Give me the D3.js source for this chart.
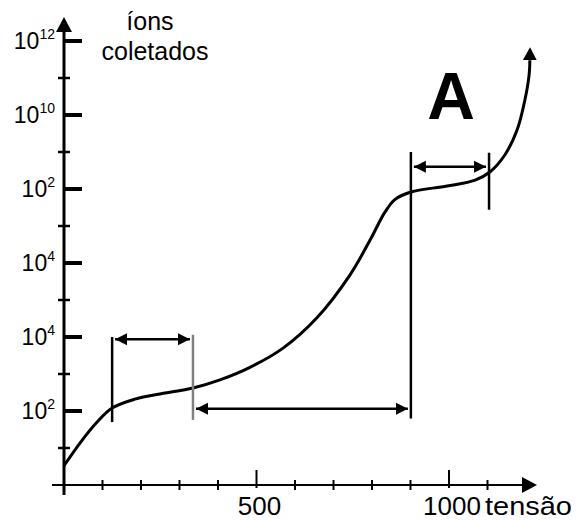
<!DOCTYPE html>
<html>
<head>
<meta charset="utf-8">
<script src="https://cdn.jsdelivr.net/npm/d3@7"></script>
<style>
  body { margin: 0; background: #fff; }
  svg { display: block; font-family: "Liberation Sans", Arial, sans-serif; }
</style>
</head>
<body>
<script>
// voltage (tensão) and position on the y axis, in tick steps
const curveVolts  = [0, 42, 86, 125, 184, 249, 335, 405, 483, 569, 657, 743, 795, 834, 860, 901, 995, 1068, 1106, 1145, 1177, 1197, 1208, 1210];
const curveLevels = [0.26, 0.57, 0.85, 1.04, 1.16, 1.23, 1.31, 1.42, 1.59, 1.85, 2.26, 2.84, 3.31, 3.69, 3.86, 3.96, 4.04, 4.12, 4.23, 4.46, 4.80, 5.20, 5.54, 5.74];

const yTickBase = ['10', '10', '10', '10', '10', '10'];
const yTickExp  = ['2', '4', '4', '2', '10', '12'];
const xTickLabels = [{v: 500, text: '500'}, {v: 1000, text: '1000'}];

// vertical markers: voltage, bottom level, top level, colour
const markVolts = [125, 335, 901, 1104];
const markLow   = [0.85, 0.88, 0.90, 3.72];
const markHigh  = [2.00, 2.03, 4.50, 4.49];
const markGray  = [false, true, false, false];

// double arrows: from voltage, to voltage, level
const spanFrom  = [125, 335, 901];
const spanTo    = [335, 901, 1104];
const spanLevel = [1.97, 1.03, 4.30];

const width = 578, height = 520;

const svg = d3.select(document.body).append('svg')
  .attr('width', width).attr('height', height);

const x = d3.scaleLinear().domain([0, 1000]).range([64, 449]);
const y = d3.scaleLinear().domain([0, 6]).range([485, 41]);

defineMarkers();
drawAxes();
drawCurve();
drawMarks();
drawTexts();

function defineMarkers(){
  const defs = svg.append('defs');
  defs.append('marker')
    .attr('id', 'head').attr('markerUnits', 'userSpaceOnUse')
    .attr('markerWidth', 14).attr('markerHeight', 14)
    .attr('viewBox', '0 -7 14 14')
    .attr('refX', 12).attr('refY', 0).attr('orient', 'auto-start-reverse')
    .append('path').attr('d', 'M0,-6L12,0L0,6Z').attr('fill', '#000');
  defs.append('marker')
    .attr('id', 'tip').attr('markerUnits', 'userSpaceOnUse')
    .attr('markerWidth', 16).attr('markerHeight', 16)
    .attr('viewBox', '0 -8 16 16')
    .attr('refX', 0).attr('refY', 0).attr('orient', 'auto')
    .append('path').attr('d', 'M0,-7L13,0L0,7Z').attr('fill', '#000');
}

function drawAxes(){
  const g = svg.append('g');
  // y axis
  g.append('line')
    .attr('x1', x(0)).attr('x2', x(0))
    .attr('y1', 495).attr('y2', 32)
    .attr('stroke', '#000').attr('stroke-width', 3);
  g.append('path')
    .attr('d', `M${x(0) - 8},32L${x(0)},17L${x(0) + 8},32Z`).attr('fill', '#000');

  const majors = d3.range(1, 7);
  g.selectAll('.ymaj').data(majors).enter().append('line')
    .attr('x1', x(0)).attr('x2', 82)
    .attr('y1', d => y(d)).attr('y2', d => y(d))
    .attr('stroke', '#000').attr('stroke-width', 4);
  g.selectAll('.ymin').data(d3.range(0.5, 6, 1)).enter().append('line')
    .attr('x1', 58).attr('x2', 70)
    .attr('y1', d => y(d)).attr('y2', d => y(d))
    .attr('stroke', '#000').attr('stroke-width', 2.5);

  const lab = g.selectAll('.ylab').data(majors).enter().append('text')
    .attr('x', 55).attr('y', d => y(d) + 8)
    .attr('text-anchor', 'end').attr('font-size', 23);
  lab.append('tspan').text((d, i) => yTickBase[i]);
  lab.append('tspan').attr('dy', -10).attr('font-size', 14).text((d, i) => yTickExp[i]);

  // x axis
  g.append('line')
    .attr('x1', 52).attr('x2', 523)
    .attr('y1', y(0)).attr('y2', y(0))
    .attr('stroke', '#000').attr('stroke-width', 2);
  g.append('path')
    .attr('d', `M522,${y(0) - 8}L537,${y(0)}L522,${y(0) + 8}Z`).attr('fill', '#000');

  const xt = d3.range(100, 1101, 100);
  g.selectAll('.xt').data(xt).enter().append('line')
    .attr('x1', d => x(d)).attr('x2', d => x(d))
    .attr('y1', d => d % 500 === 0 ? 470 : 480)
    .attr('y2', d => d % 500 === 0 ? 488 : 490)
    .attr('stroke', '#000').attr('stroke-width', 2);

  g.selectAll('.xlab').data(xTickLabels).enter().append('text')
    .attr('x', d => x(d.v) + 3).attr('y', 515)
    .attr('text-anchor', 'middle').attr('font-size', 26)
    .text(d => d.text);
  g.append('text')
    .attr('x', 485).attr('y', 515).attr('font-size', 26)
    .attr('textLength', 87).attr('lengthAdjust', 'spacingAndGlyphs')
    .text('tensão');
}

function drawCurve(){
  const pts = curveVolts.map((v, i) => [v, curveLevels[i]]);
  const line = d3.line()
    .x(d => x(d[0])).y(d => y(d[1]))
    .curve(d3.curveCatmullRom.alpha(0.5));
  svg.append('path')
    .attr('d', line(pts))
    .attr('fill', 'none').attr('stroke', '#000').attr('stroke-width', 3)
    .attr('marker-end', 'url(#tip)');
}

function drawMarks(){
  svg.selectAll('.mark').data(markVolts).enter().append('line')
    .attr('x1', d => x(d)).attr('x2', d => x(d))
    .attr('y1', (d, i) => y(markLow[i])).attr('y2', (d, i) => y(markHigh[i]))
    .attr('stroke', (d, i) => markGray[i] ? '#808080' : '#000')
    .attr('stroke-width', 2.5);

  svg.selectAll('.span').data(spanFrom).enter().append('line')
    .attr('x1', d => x(d) + 3).attr('x2', (d, i) => x(spanTo[i]) - 3)
    .attr('y1', (d, i) => y(spanLevel[i])).attr('y2', (d, i) => y(spanLevel[i]))
    .attr('stroke', '#000').attr('stroke-width', 2.5)
    .attr('marker-start', 'url(#head)').attr('marker-end', 'url(#head)');
}

function drawTexts(){
  svg.append('text').attr('x', 150).attr('y', 30)
    .attr('text-anchor', 'middle').attr('font-size', 25).text('íons');
  svg.append('text').attr('x', 155).attr('y', 60)
    .attr('text-anchor', 'middle').attr('font-size', 25).text('coletados');
  svg.append('text').attr('x', 451).attr('y', 119)
    .attr('text-anchor', 'middle').attr('font-size', 66).attr('font-weight', 'bold')
    .text('A');
}
</script>
</body>
</html>
